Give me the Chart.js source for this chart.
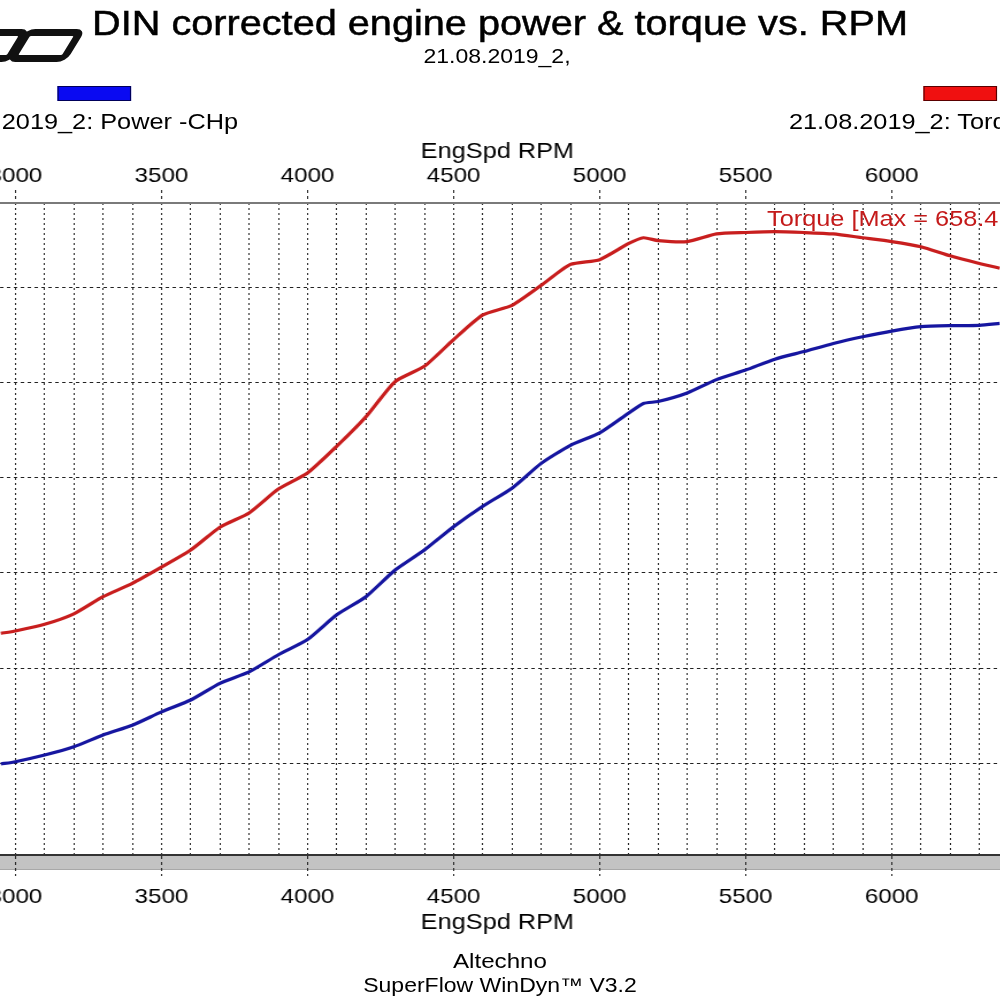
<!DOCTYPE html>
<html>
<head>
<meta charset="utf-8">
<script src="https://cdn.jsdelivr.net/npm/chart.js@4.4.1/dist/chart.umd.min.js"></script>
<style>
  html, body { margin:0; padding:0; background:#fff; overflow:hidden; width:1000px; height:1000px; }
  #page { position:absolute; left:0; top:0; width:869.57px; height:1000px; transform:scaleX(1.15); transform-origin:0 0;
          font-family:"Liberation Sans", Arial, sans-serif; color:#000; }
  .t { position:absolute; white-space:nowrap; line-height:1; }
  .logo { position:absolute; top:29px; height:19px; border:7.5px solid #111; border-radius:8px; transform:skewX(-28deg); }
</style>
</head>
<body>
<div id="page">
  <div class="logo" style="left:-60px; width:64px;"></div>
  <div class="logo" style="left:14px; width:38px;"></div>

  <div class="t" style="left:0; width:869.57px; text-align:center; top:5.8px; font-size:34.5px; -webkit-text-stroke:0.5px #000;">DIN corrected engine power &amp; torque vs. RPM</div>
  <div class="t" style="left:432.2px; transform:translateX(-50%); top:46.4px; font-size:20px;">21.08.2019_2,</div>

  <div style="position:absolute; left:49.6px; top:86px; width:62.3px; height:13px; background:#0a0af2; border:1px solid #00005a;"></div>
  <div class="t" style="right:662.6px; top:110.7px; font-size:22px;">21.08.2019_2: Power -CHp</div>

  <div style="position:absolute; left:802.6px; top:86px; width:62.3px; height:13px; background:#f01010; border:1px solid #5a0000;"></div>
  <div class="t" style="left:686px; top:110.7px; font-size:22px;">21.08.2019_2: Torque -Nm</div>

  <canvas id="c" width="889" height="815" style="position:absolute; left:-12.37px; top:130px;"></canvas>

  <div class="t" style="left:667px; top:208.4px; font-size:22px; color:#c41a1a;">Torque [Max = 658.4 Nm]</div>

  <div class="t" style="left:0; width:869.57px; text-align:center; top:950.2px; font-size:21px;">Altechno</div>
  <div class="t" style="left:0; width:869.57px; text-align:center; top:974.8px; font-size:20px;">SuperFlow WinDyn™ V3.2</div>
</div>
<script>
// ---- data ----
const rpm = [2950,3000,3100,3200,3300,3400,3500,3600,3700,3800,3900,4000,4100,4200,4300,4400,4500,4600,4700,4800,4900,5000,5100,5150,5200,5300,5400,5500,5600,5700,5800,5900,6000,6100,6200,6300,6370];
const torqueNm = [236.5,239,246,257,275,289,306,324,348,363,388,405,433,464,501,517,545,571,581,602,624,629,646,652,649,648,656,657.5,658.4,657.5,656,652,648,642.6,633,625,620];
const powerCHp = [99.3,101.7,108.7,117.4,129.7,140,154,166.5,184,196,214,230,256,275,303,324,348.5,370,389,415,434,447,468,478,480,489,503,513,524.5,532.5,541,548,554,558.6,559.7,560,562];
const rpmGridTicks = [2900,3000,3100,3200,3300,3400,3500,3600,3700,3800,3900,4000,4100,4200,4300,4400,4500,4600,4700,4800,4900,5000,5100,5200,5300,5400,5500,5600,5700,5800,5900,6000,6100,6200,6300,6400];
const rpmLabelTicks = [3000,3500,4000,4500,5000,5500,6000];
const valueGridTicks = [100,200,300,400,500,600];
const axisTitle = 'EngSpd RPM';

Chart.defaults.font.family = '"Liberation Sans", Arial, sans-serif';
Chart.defaults.color = '#000';

const isMajor = v => rpmLabelTicks.includes(v);
const tickCol = c => (c.tick && isMajor(c.tick.value)) ? '#222' : 'rgba(0,0,0,0)';
const noSidePad = s => { s.paddingLeft = 0; s.paddingRight = 0; };

const greyBar = {
  id: 'greyBar',
  beforeDraw(chart) {
    const {ctx, chartArea: a} = chart;
    ctx.save();
    ctx.fillStyle = '#c3c3c3';
    ctx.fillRect(a.left, a.bottom, a.right - a.left, 15);
    ctx.fillStyle = '#a8a8a8';
    ctx.fillRect(a.left, a.bottom + 14, a.right - a.left, 1);
    ctx.restore();
  }
};

new Chart(document.getElementById('c'), {
  type: 'line',
  data: {
    datasets: [
      { label: 'Torque -Nm', data: rpm.map((r, i) => ({x: r, y: torqueNm[i]})), borderColor: '#c81e1e', borderWidth: 3.2, pointRadius: 0, tension: 0.2, xAxisID: 'x', yAxisID: 'y' },
      { label: 'Power -CHp', data: rpm.map((r, i) => ({x: r, y: powerCHp[i]})), borderColor: '#1616a0', borderWidth: 3.2, pointRadius: 0, tension: 0.2, xAxisID: 'x', yAxisID: 'y' }
    ]
  },
  options: {
    responsive: false,
    animation: false,
    layout: { padding: 0, autoPadding: false },
    plugins: { legend: { display: false }, tooltip: { enabled: false } },
    scales: {
      x: {
        type: 'linear', position: 'bottom', min: 2900, max: 6400,
        afterBuildTicks: s => { s.ticks = rpmGridTicks.map(v => ({value: v})); },
        afterFit: s => { s.height = 90; noSidePad(s); },
        ticks: { autoSkip: false, maxRotation: 0, font: { size: 21 }, padding: 9, callback: v => isMajor(v) ? String(v) : '' },
        grid: { color: '#222', lineWidth: 1, tickLength: 21, tickColor: tickCol, tickWidth: 1, tickBorderDash: [3, 3] },
        border: { display: true, color: '#333', width: 2, dash: [2, 3] },
        title: { display: true, text: axisTitle, font: { size: 22 }, padding: { top: 0, bottom: 9 } }
      },
      x2: {
        type: 'linear', position: 'top', min: 2900, max: 6400,
        afterBuildTicks: s => { s.ticks = rpmGridTicks.map(v => ({value: v})); },
        afterFit: s => { s.height = 73; noSidePad(s); },
        ticks: { autoSkip: false, maxRotation: 0, font: { size: 21 }, padding: 1, callback: v => isMajor(v) ? String(v) : '' },
        grid: { drawOnChartArea: false, tickLength: 13, tickColor: tickCol, tickWidth: 1, tickBorderDash: [3, 3] },
        border: { display: true, color: '#7a7a7a', width: 2 },
        title: { display: true, text: axisTitle, font: { size: 22 }, padding: { top: 9, bottom: 0 } }
      },
      y: {
        type: 'linear', min: 3.7, max: 688.5,
        afterBuildTicks: s => { s.ticks = valueGridTicks.map(v => ({value: v})); },
        afterFit: s => { s.width = 0; },
        ticks: { display: false },
        grid: { color: '#222', lineWidth: 1, drawTicks: false },
        border: { display: false, dash: [3, 3] }
      }
    }
  },
  plugins: [greyBar]
});
</script>
</body>
</html>
